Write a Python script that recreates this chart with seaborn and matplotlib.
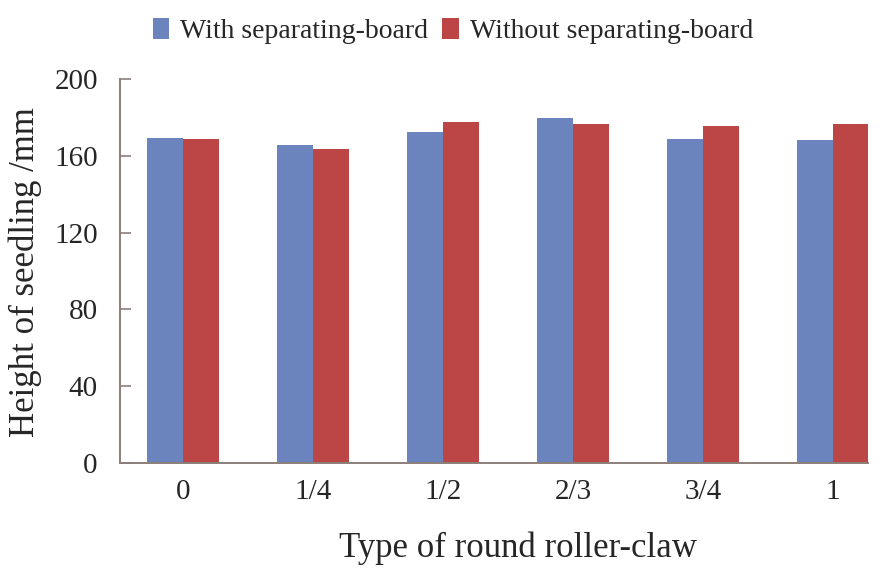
import matplotlib
matplotlib.use("Agg")
import matplotlib.pyplot as plt
import seaborn as sns
import pandas as pd

categories = ["0", "1/4", "1/2", "2/3", "3/4", "1"]
with_board = [169.4, 165.5, 172.6, 179.9, 168.6, 168.1]
without_board = [168.9, 163.5, 177.4, 176.4, 175.4, 176.4]
series_names = ["With separating-board", "Without separating-board"]
yticks = [0, 40, 80, 120, 160, 200]

df = pd.DataFrame({
    "cat": categories * 2,
    "val": with_board + without_board,
    "series": [series_names[0]] * 6 + [series_names[1]] * 6,
})

sns.set_style("white")
plt.rcParams["font.family"] = ["Liberation Serif", "DejaVu Serif"]

fig = plt.figure(figsize=(8.86, 5.68), dpi=100)
ax = fig.add_axes([120/886, 105/568, 748/886, 384/568])

palette = {series_names[0]: "#6B84BE", series_names[1]: "#BC4645"}
sns.barplot(data=df, x="cat", y="val", hue="series", order=categories,
            hue_order=series_names, palette=palette, width=0.55,
            saturation=1, ax=ax, legend=True, linewidth=0)

ax.set_xlim(-0.485, -0.485 + 748/130)
ax.set_ylim(0, 200)
ax.set_yticks(yticks)
axis_col = "#8c7f7a"
ax.tick_params(axis="y", which="both", left=True, direction="in", length=8,
               width=1.2, color=axis_col, labelsize=21, pad=16)
ax.tick_params(axis="x", bottom=False, labelsize=21, pad=8)
for s in ["top", "right"]:
    ax.spines[s].set_visible(False)
for s in ["left", "bottom"]:
    ax.spines[s].set_color(axis_col)
    ax.spines[s].set_linewidth(1.4)

ax.set_xlabel("Type of round roller-claw", fontsize=25, labelpad=22)
ax.xaxis.set_label_coords(518/886, 20/568, transform=fig.transFigure)
ax.xaxis.label.set_verticalalignment("center")
ax.set_ylabel("Height of seedling /mm", fontsize=25)
ax.yaxis.set_label_coords(25/886, (568 - 272)/568, transform=fig.transFigure)
ax.yaxis.label.set_verticalalignment("center")

ax.legend(loc="upper center", bbox_to_anchor=(453/886, 1.0), bbox_transform=fig.transFigure,
          ncol=2, frameon=False, fontsize=20, handlelength=0.6, handleheight=0.8,
          handletextpad=0.4, columnspacing=0.5, borderaxespad=0.25)

fig.savefig("out.png", dpi=100)
